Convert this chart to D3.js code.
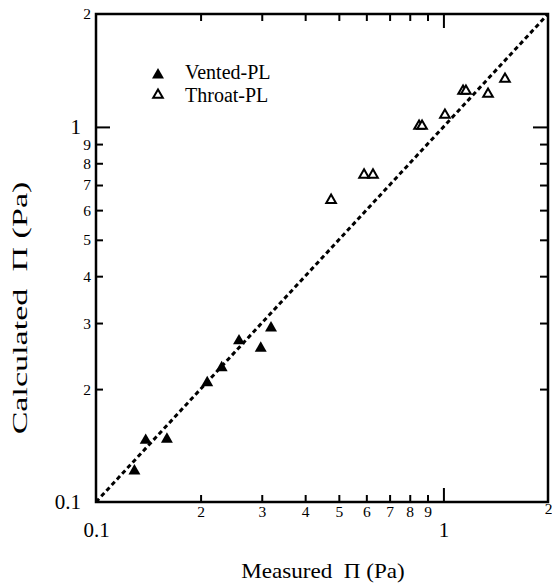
<!DOCTYPE html>
<html>
<head>
<meta charset="utf-8">
<script src="https://cdn.jsdelivr.net/npm/d3@7"></script>
<style>
  html, body { margin: 0; padding: 0; background: #fff; }
  svg { display: block; font-family: "Liberation Serif", "Times New Roman", serif; }
</style>
</head>
<body>
<svg id="chart" width="552" height="587"></svg>
<script>
// Measured vs calculated Π, both in Pa
const ventedMeasured   = [0.129, 0.139, 0.160, 0.209, 0.230, 0.258, 0.298, 0.319];
const ventedCalculated = [0.121, 0.146, 0.147, 0.208, 0.228, 0.269, 0.257, 0.291];
const throatMeasured   = [0.475, 0.591, 0.627, 0.851, 0.868, 1.010, 1.139, 1.161, 1.344, 1.504];
const throatCalculated = [0.638, 0.745, 0.745, 1.006, 1.006, 1.076, 1.247, 1.247, 1.224, 1.342];

const minorTickValues = [0.2, 0.3, 0.4, 0.5, 0.6, 0.7, 0.8, 0.9];
const minorTickLabels = ["2", "3", "4", "5", "6", "7", "8", "9"];
const majorTickValues = [0.1, 1];
const majorTickLabels = ["0.1", "1"];
const endTickValue = 2;
const endTickLabel = "2";

const legendLabels = ["Vented-PL", "Throat-PL"];
const xTitle = "Measured\u00a0\u00a0Π (Pa)";
const yTitle = "Calculated\u00a0\u00a0Π (Pa)";

const margin = { left: 96, top: 14, right: 4, bottom: 85 };
const W = 552, H = 587;
const iw = W - margin.left - margin.right;
const ih = H - margin.top - margin.bottom;

const svg = d3.select("#chart");
const g = svg.append("g").attr("transform", `translate(${margin.left},${margin.top})`);

const x = d3.scaleLog().domain([0.1, 2]).range([0, iw]);
const y = d3.scaleLog().domain([0.1, 2]).range([ih, 0]);

function styleAxis(sel, fontSize) {
  sel.select(".domain").remove();
  sel.selectAll(".tick line").attr("stroke", "#000").attr("stroke-width", 2);
  sel.selectAll(".tick text")
    .attr("fill", "#000")
    .style("font-family", "'Liberation Serif', serif")
    .style("font-size", fontSize + "px");
}

// bottom axis: inward ticks
g.append("g").attr("transform", `translate(0,${ih})`)
  .call(d3.axisBottom(x).tickValues(minorTickValues).tickSize(-7).tickPadding(4)
    .tickFormat((d, i) => minorTickLabels[i]))
  .call(s => styleAxis(s, 15.5));
g.append("g").attr("transform", `translate(0,${ih})`)
  .call(d3.axisBottom(x).tickValues(majorTickValues).tickSize(-14).tickPadding(20)
    .tickFormat((d, i) => majorTickLabels[i]))
  .call(s => styleAxis(s, 21))
  .call(s => s.selectAll(".tick").filter(d => d === 0.1).select("line").remove());
g.append("g").attr("transform", `translate(0,${ih})`)
  .call(d3.axisBottom(x).tickValues([endTickValue]).tickSize(0).tickPadding(1)
    .tickFormat(() => endTickLabel))
  .call(s => styleAxis(s, 15.5));

// left axis
g.append("g")
  .call(d3.axisLeft(y).tickValues(minorTickValues).tickSize(-7).tickPadding(5)
    .tickFormat((d, i) => minorTickLabels[i]))
  .call(s => styleAxis(s, 15.5));
g.append("g")
  .call(d3.axisLeft(y).tickValues(majorTickValues).tickSize(-14).tickPadding(15)
    .tickFormat((d, i) => majorTickLabels[i]))
  .call(s => styleAxis(s, 21))
  .call(s => s.selectAll(".tick").filter(d => d === 0.1).select("line").remove());
g.append("g")
  .call(d3.axisLeft(y).tickValues([endTickValue]).tickSize(0).tickPadding(5)
    .tickFormat(() => endTickLabel))
  .call(s => styleAxis(s, 15.5));

// top and right axes: ticks only
g.append("g")
  .call(d3.axisTop(x).tickValues(minorTickValues).tickSize(-7).tickFormat(""))
  .call(s => styleAxis(s, 15));
g.append("g")
  .call(d3.axisTop(x).tickValues([1]).tickSize(-14).tickFormat(""))
  .call(s => styleAxis(s, 15));
g.append("g").attr("transform", `translate(${iw},0)`)
  .call(d3.axisRight(y).tickValues(minorTickValues).tickSize(-8).tickFormat(""))
  .call(s => styleAxis(s, 15));
g.append("g").attr("transform", `translate(${iw},0)`)
  .call(d3.axisRight(y).tickValues([1]).tickSize(-15).tickFormat(""))
  .call(s => styleAxis(s, 15));

// frame
g.append("rect").attr("x", 0).attr("y", 0).attr("width", iw).attr("height", ih)
  .attr("fill", "none").attr("stroke", "#000").attr("stroke-width", 2.5);

// 1:1 line
g.append("line")
  .attr("x1", x(0.1)).attr("y1", y(0.1)).attr("x2", x(2)).attr("y2", y(2))
  .attr("stroke", "#000").attr("stroke-width", 3)
  .attr("stroke-dasharray", "4.5,3.2");

const triFilled = d3.symbol().type(d3.symbolTriangle).size(62);
const triOpen = d3.symbol().type(d3.symbolTriangle).size(40);

g.selectAll("path.vented").data(ventedMeasured).join("path")
  .attr("class", "vented")
  .attr("d", triFilled)
  .attr("transform", (d, i) => `translate(${x(d)},${y(ventedCalculated[i])})`)
  .attr("fill", "#000");

g.selectAll("path.throat").data(throatMeasured).join("path")
  .attr("class", "throat")
  .attr("d", triOpen)
  .attr("transform", (d, i) => `translate(${x(d)},${y(throatCalculated[i])})`)
  .attr("fill", "#fff").attr("stroke", "#000").attr("stroke-width", 2);

// legend
const legend = svg.append("g");
legend.append("path").attr("d", triFilled).attr("transform", "translate(158,75)").attr("fill", "#000");
legend.append("path").attr("d", triOpen).attr("transform", "translate(158,95)")
  .attr("fill", "#fff").attr("stroke", "#000").attr("stroke-width", 2);
legend.selectAll("text").data(legendLabels).join("text")
  .attr("x", 185).attr("y", (d, i) => 79 + i * 22.5)
  .attr("font-size", 20).text(d => d);

// axis titles
svg.append("text").attr("transform", "translate(323,578) scale(1.1,1)").attr("text-anchor", "middle")
  .attr("font-size", 21).text(xTitle);
svg.append("text").attr("transform", "translate(27,308) rotate(-90) scale(1.55,1)").attr("text-anchor", "middle")
  .attr("font-size", 22).text(yTitle);
</script>
</body>
</html>
